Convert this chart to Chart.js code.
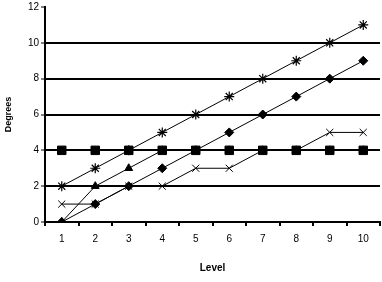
<!DOCTYPE html>
<html><head><meta charset="utf-8">
<script src="https://cdn.jsdelivr.net/npm/chart.js@4/dist/chart.umd.min.js"></script>
<style>html,body{margin:0;padding:0;background:#fff;overflow:hidden}#outer{width:382px;height:282px;overflow:hidden}#wrap{width:387px;height:282px}</style>
</head><body><div id="outer"><div id="wrap"><canvas id="c"></canvas></div></div>
<script>
const levels = ['1','2','3','4','5','6','7','8','9','10'];
const starSeries = [2,3,4,5,6,7,8,9,10,11];
const diamondSeries = [0,1,2,3,4,5,6,7,8,9];
const triangleSeries = [0,2,3,4,4,4,4,4,4,4];
const squareSeries = [4,4,4,4,4,4,4,4,4,4];
const crossSeries = [1,1,2,2,3,3,4,4,5,5];
const yTicks = [0,2,4,6,8,10,12];

function ds(data, style, r, bw){
  return {data, borderColor:'#000', backgroundColor:'#000', borderWidth:1,
    pointStyle:style, pointRadius:r, pointBorderWidth:bw, pointBackgroundColor:'#000',
    pointBorderColor:'#000', tension:0, fill:false};
}
const F = "'Liberation Sans', Arial, sans-serif";
new Chart(document.getElementById('c'), {
  type:'line',
  data:{labels:levels, datasets:[
    ds(crossSeries,'crossRot',5,1),
    ds(starSeries,'star',5,1.2),
    ds(diamondSeries,'rectRot',4.5,1),
    ds(triangleSeries,'triangle',4.5,1),
    ds(squareSeries,'rect',6,1)
  ]},
  options:{
    responsive:true, maintainAspectRatio:false, animation:false,
    layout:{padding:{top:6,right:1,left:0,bottom:0}},
    plugins:{legend:{display:false}, tooltip:{enabled:false}},
    scales:{
      x:{offset:true,
        grid:{offset:true, drawOnChartArea:false, color:'#000', tickLength:4, lineWidth:2},
        border:{color:'#000', width:2},
        ticks:{color:'#000', font:{family:F,size:10}, padding:7, maxRotation:0},
        title:{display:true, text:'Level', color:'#000', font:{family:F,size:10,weight:'bold'}, padding:{top:0,bottom:8}},
        afterFit(s){ s.height = 60; s.paddingLeft = 0; s.paddingRight = 0; }
      },
      y:{min:0, max:12,
        afterBuildTicks(s){ s.ticks = yTicks.map(v=>({value:v})); },
        grid:{color:c=> (c.tick && c.tick.value===12) ? 'rgba(0,0,0,0)' : '#000', lineWidth:2, tickLength:4, tickColor:'#000', tickWidth:1},
        border:{color:'#000', width:2},
        ticks:{color:'#000', font:{family:F,size:10}, padding:2},
        title:{display:true, text:'Degrees', color:'#000', font:{family:F,size:9,weight:'bold'}, padding:{top:3,bottom:0}},
        afterFit(s){ s.width = 45; s.paddingTop = 0; s.paddingBottom = 0; }
      }
    }
  }
});
</script></body></html>
